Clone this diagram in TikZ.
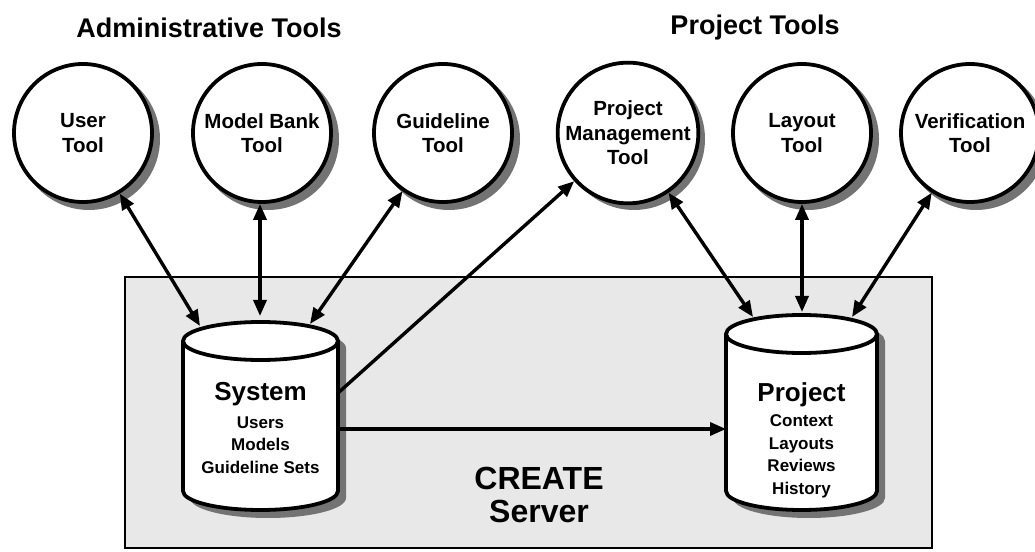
\documentclass[tikz,border=0pt]{standalone}
\usepackage{fontspec}
\setmainfont{Liberation Sans}
\usetikzlibrary{arrows.meta}
\begin{document}
\begin{tikzpicture}[x=1pt,y=1pt,
  shadowfill/.style={fill=black!55},
  tool/.style={circle, draw, line width=3.8pt, minimum size=138pt, inner sep=0pt,
    align=center, fill=white, font=\bfseries\fontsize{20.5}{24.5}\selectfont},
  cyl/.style={draw, line width=3.8pt, fill=white},
  dbtitle/.style={inner sep=0pt, font=\bfseries\fontsize{26}{30}\selectfont},
  dbitems/.style={inner sep=0pt, align=center, font=\bfseries\fontsize{17}{22.5}\selectfont},
  grouptitle/.style={inner sep=0pt, font=\bfseries\fontsize{27}{31}\selectfont},
  link/.style={line width=3.4pt, {Triangle[length=16pt,width=13pt]}-{Triangle[length=16pt,width=13pt]}},
  onelink/.style={line width=3.4pt, -{Triangle[length=16pt,width=13pt]}}]
\useasboundingbox (0,0) rectangle (1035,551);

% server box
\draw[line width=2.6pt, fill=black!9] (125,3) rectangle (932,274);
\node[inner sep=0pt, align=center, font=\bfseries\fontsize{32}{33}\selectfont] (server) at (539,56.5) {CREATE\\Server};

% titles
\node[grouptitle] (admintitle) at (209,523) {Administrative Tools};
\node[grouptitle] (projtitle) at (755,523) {Project Tools};

% tool shadows
\foreach \cx in {83,262,443,628,802,970}
  \fill[shadowfill] (\cx+6,412) circle[radius=71];

% tools
\node[tool] (user) at (83,418) {User\\Tool};
\node[tool] (bank) at (262,418) {Model Bank\\Tool};
\node[tool] (guide) at (443,418) {Guideline\\Tool};
\node[tool] (pm) at (628,418) {Project\\Management\\Tool};
\node[tool] (layout) at (802,418) {Layout\\Tool};
\node[tool] (verif) at (970,418) {Verification\\Tool};

% system cylinder
\fill[shadowfill] (190,203) -- (190,53) arc[start angle=180, end angle=360, x radius=78, y radius=20]
  -- (346,203) arc[start angle=0, end angle=180, x radius=78, y radius=20] -- cycle;
\filldraw[cyl] (183,210) -- (183,60) arc[start angle=180, end angle=360, x radius=77.5, y radius=19]
  -- (338,210) arc[start angle=0, end angle=180, x radius=77.5, y radius=19] -- cycle;
\draw[line width=3.8pt] (183,210) arc[start angle=180, end angle=360, x radius=77.5, y radius=19];
\node[dbtitle] (sys) at (260.5,157) {System};
\node[dbitems] (sysitems) at (260.5,106) {Users\\Models\\Guideline Sets};

% project cylinder
\fill[shadowfill] (733,210) -- (733,53) arc[start angle=180, end angle=360, x radius=76, y radius=20]
  -- (885,210) arc[start angle=0, end angle=180, x radius=76, y radius=20] -- cycle;
\filldraw[cyl] (726,217) -- (726,60) arc[start angle=180, end angle=360, x radius=75.5, y radius=19]
  -- (877,217) arc[start angle=0, end angle=180, x radius=75.5, y radius=19] -- cycle;
\draw[line width=3.8pt] (726,217) arc[start angle=180, end angle=360, x radius=75.5, y radius=19];
\node[dbtitle] (prj) at (801.5,156) {Project};
\node[dbitems] (prjitems) at (801.5,94.5) {Context\\Layouts\\Reviews\\History};

% connector end points on the cylinders
\coordinate (sysA) at (200,225);
\coordinate (sysB) at (260,235);
\coordinate (sysC) at (310,227);
\coordinate (sysR1) at (338,158);
\coordinate (sysR2) at (338,122);
\coordinate (prjL) at (726,122);
\coordinate (prjA) at (753,234);
\coordinate (prjB) at (802,239);
\coordinate (prjC) at (852,234);

% connectors
\draw[link] (user) -- (sysA);
\draw[link] (bank.south -| sysB) -- (sysB);
\draw[link] (guide) -- (sysC);
\draw[onelink] (sysR1) -- (pm);
\draw[onelink] (sysR2) -- (prjL);
\draw[link] (pm) -- (prjA);
\draw[link] (layout) -- (prjB);
\draw[link] (verif) -- (prjC);
\end{tikzpicture}
\end{document}
